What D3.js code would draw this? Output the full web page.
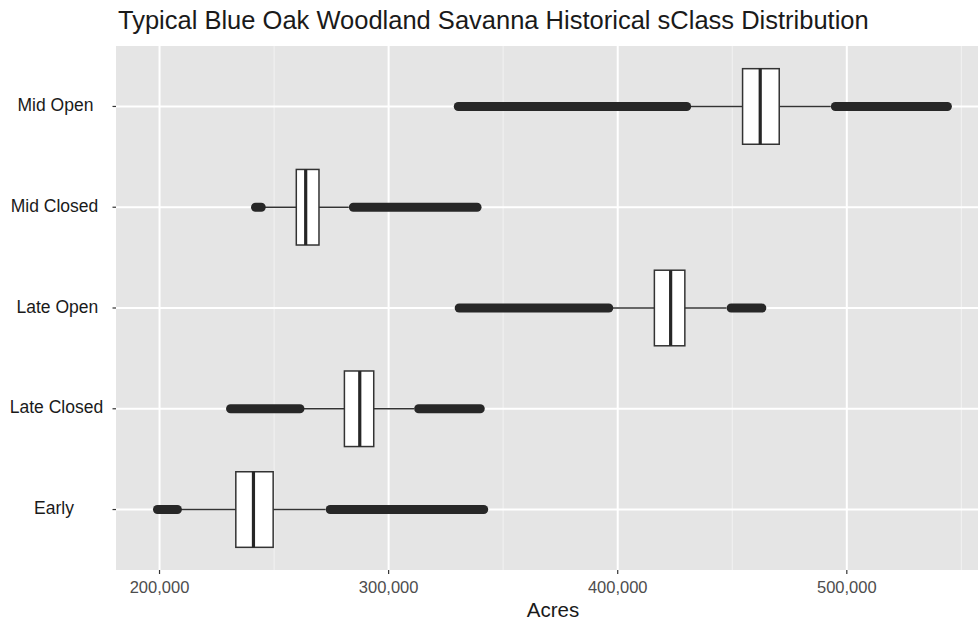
<!DOCTYPE html>
<html>
<head>
<meta charset="utf-8">
<script src="https://cdn.jsdelivr.net/npm/d3@7"></script>
<style>
  body { margin: 0; background: #fff; }
  svg { display: block; font-family: "Liberation Sans", Arial, sans-serif; }
  .ylab { white-space: pre; }
</style>
</head>
<body>
<svg id="chart" width="978" height="622"></svg>
<script>
// categories top to bottom (trailing spaces as in the original labels)
const categories = ['Mid Open', 'Mid Closed', 'Late Open', 'Late Closed', 'Early'];
const catLabels = ['Mid Open   ', 'Mid Closed  ', 'Late Open  ', 'Late Closed ', 'Early       '];

// box stats, in acres
const q1 = [454500, 259700, 416000, 280700, 233300];
const median = [462200, 263800, 423100, 287400, 241000];
const q3 = [470500, 269600, 429300, 293500, 249600];
const whiskerLo = [430100, 244400, 396100, 261300, 207800];
const whiskerHi = [493000, 282600, 447500, 311100, 272500];

// outliers are so dense they form a solid run: first and last point of each run
const outLowFrom = [330400, 241900, 330800, 231000, 199100];
const outLowTo = [430100, 244400, 396100, 261300, 207800];
const outHighFrom = [495000, 284600, 449500, 313100, 274500];
const outHighTo = [543900, 338600, 462900, 340000, 341500];

const xTicks = [200000, 300000, 400000, 500000];
const xMinor = [250000, 350000, 450000, 550000];

const margin = { top: 46, right: -12, bottom: 52, left: 116 };
const W = 978, H = 622;
const svg = d3.select('#chart');

const x = d3.scaleLinear().domain([181000, 562500]).range([margin.left, W - margin.right]);
// ggplot discrete expansion: 0.6 of a step on each side
const step = (H - margin.bottom - margin.top) / (categories.length - 1 + 1.2);
const yc = c => margin.top + step * (0.6 + categories.indexOf(c));
const boxH = step * 0.75;

const fmt = d3.format(',');

svg.append('defs').append('clipPath').attr('id', 'clip')
  .append('rect')
  .attr('x', margin.left).attr('y', margin.top)
  .attr('width', W - margin.left - margin.right)
  .attr('height', H - margin.top - margin.bottom);

const panel = svg.append('g').attr('clip-path', 'url(#clip)');

panel.append('rect')
  .attr('x', margin.left).attr('y', margin.top)
  .attr('width', W - margin.left - margin.right)
  .attr('height', H - margin.top - margin.bottom)
  .attr('fill', '#e5e5e5');

panel.selectAll('.minor').data(xMinor).join('line')
  .attr('class', 'minor')
  .attr('x1', d => x(d)).attr('x2', d => x(d))
  .attr('y1', margin.top).attr('y2', H - margin.bottom)
  .attr('stroke', '#f2f2f2').attr('stroke-width', 1);

panel.selectAll('.major').data(xTicks).join('line')
  .attr('class', 'major')
  .attr('x1', d => x(d)).attr('x2', d => x(d))
  .attr('y1', margin.top).attr('y2', H - margin.bottom)
  .attr('stroke', '#fff').attr('stroke-width', 2);

panel.selectAll('.hgrid').data(categories).join('line')
  .attr('class', 'hgrid')
  .attr('x1', margin.left).attr('x2', W)
  .attr('y1', d => yc(d)).attr('y2', d => yc(d))
  .attr('stroke', '#fff').attr('stroke-width', 2);

const rows = categories.map((c, i) => ({ c, i }));

// whiskers
panel.selectAll('.whisker').data(rows).join('line')
  .attr('x1', d => x(whiskerLo[d.i])).attr('x2', d => x(whiskerHi[d.i]))
  .attr('y1', d => yc(d.c)).attr('y2', d => yc(d.c))
  .attr('stroke', '#333').attr('stroke-width', 1.4);

// outlier runs
const runs = [];
rows.forEach(d => {
  runs.push({ c: d.c, a: outLowFrom[d.i], b: outLowTo[d.i] });
  runs.push({ c: d.c, a: outHighFrom[d.i], b: outHighTo[d.i] });
});
panel.selectAll('.outliers').data(runs).join('line')
  .attr('x1', d => x(d.a)).attr('x2', d => x(d.b))
  .attr('y1', d => yc(d.c)).attr('y2', d => yc(d.c))
  .attr('stroke', '#272727').attr('stroke-width', 9)
  .attr('stroke-linecap', 'round');

// boxes
panel.selectAll('.box').data(rows).join('rect')
  .attr('x', d => x(q1[d.i])).attr('width', d => x(q3[d.i]) - x(q1[d.i]))
  .attr('y', d => yc(d.c) - boxH / 2).attr('height', boxH)
  .attr('fill', '#fff').attr('stroke', '#333').attr('stroke-width', 1.5);

panel.selectAll('.med').data(rows).join('line')
  .attr('x1', d => x(median[d.i])).attr('x2', d => x(median[d.i]))
  .attr('y1', d => yc(d.c) - boxH / 2).attr('y2', d => yc(d.c) + boxH / 2)
  .attr('stroke', '#262626').attr('stroke-width', 3.2);

// y axis
svg.selectAll('.ytick').data(categories).join('line')
  .attr('x1', margin.left - 3.5).attr('x2', margin.left)
  .attr('y1', d => yc(d)).attr('y2', d => yc(d))
  .attr('stroke', '#333').attr('stroke-width', 1.2);

svg.selectAll('.ylab').data(rows).join('text')
  .attr('class', 'ylab')
  .attr('x', 108).attr('y', d => yc(d.c) + 4.5)
  .attr('text-anchor', 'end')
  .attr('font-size', 17.5)
  .attr('fill', '#1a1a1a')
  .text(d => catLabels[d.i]);

// x axis
svg.selectAll('.xtick').data(xTicks).join('line')
  .attr('x1', d => x(d)).attr('x2', d => x(d))
  .attr('y1', H - margin.bottom).attr('y2', H - margin.bottom + 4)
  .attr('stroke', '#333').attr('stroke-width', 1.2);

svg.selectAll('.xlab').data(xTicks).join('text')
  .attr('x', d => x(d)).attr('y', 593)
  .attr('text-anchor', 'middle')
  .attr('font-size', 16.5)
  .attr('fill', '#4d4d4d')
  .text(d => fmt(d));

svg.append('text')
  .attr('x', (margin.left + W - margin.right) / 2).attr('y', 617)
  .attr('text-anchor', 'middle')
  .attr('font-size', 20.5)
  .attr('fill', '#1a1a1a')
  .text('Acres');

svg.append('text')
  .attr('x', 118).attr('y', 29)
  .attr('font-size', 25.5)
  .attr('fill', '#1a1a1a')
  .text('Typical Blue Oak Woodland Savanna Historical sClass Distribution');
</script>
</body>
</html>
